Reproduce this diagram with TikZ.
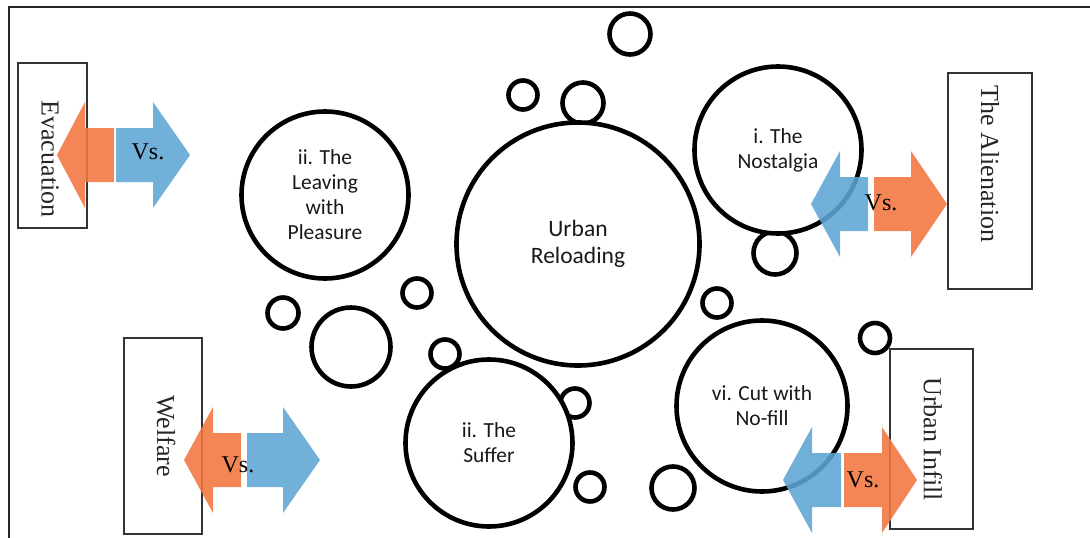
\documentclass[tikz,border=0pt]{standalone}
\usepackage{fontspec}
\setmainfont{Liberation Serif}
\newfontfamily\calfont{Carlito}
\definecolor{arrorange}{RGB}{242,117,63}
\definecolor{arrblue}{RGB}{93,165,211}
\newcommand{\vsarrow}[5]{%
  \fill[#1] (#2,#5) -- (#3,#5-53) -- (#3,#5-27) -- (#4,#5-27) -- (#4,#5+27) -- (#3,#5+27) -- (#3,#5+53) -- cycle;}
\begin{document}
\begin{tikzpicture}[x=1pt,y=-1pt,
  bub/.style={circle,draw=black,line width=4.6pt,inner sep=0pt},
  topic/.style={bub,fill=white,align=center,text=black!90,font=\calfont\fontsize{21.5}{25}\selectfont},
  sidebox/.style={draw=black!80,line width=1.2pt,fill=white,inner sep=0pt},
  sidetext/.style={rotate=-90,font=\fontsize{26}{30}\selectfont,text=black!85},
  vs/.style={font=\fontsize{24}{28}\selectfont,text=black},
  orangearr/.style={arrorange,fill opacity=0.88},
  bluearr/.style={arrblue,fill opacity=0.88}]
\useasboundingbox (0,0) rectangle (1090,538);
% frame
\draw[line width=2pt,black!85] (9,538) -- (9,7) -- (1090,7);

% small bubbles (behind the large ones)
\node[bub,minimum size=41pt] (b1) at (630,34) {};
\node[bub,minimum size=29pt] (b2) at (523,95) {};
\node[bub,minimum size=41pt] (b3) at (583,103) {};
\node[bub,minimum size=29pt] (b4) at (417,293) {};
\node[bub,minimum size=31pt] (b5) at (283,313) {};
\node[bub,minimum size=79pt] (b6) at (351,347) {};
\node[bub,minimum size=29pt] (b7) at (445,354) {};
\node[bub,minimum size=29pt] (b8) at (575,403) {};
\node[bub,minimum size=29pt] (b9) at (590,487) {};
\node[bub,minimum size=43pt] (b10) at (673,488) {};
\node[bub,minimum size=29pt] (b11) at (717,303) {};
\node[bub,minimum size=43pt] (b12) at (775,253) {};
\node[bub,minimum size=30pt] (b13) at (875,338) {};

% main bubbles
\node[bub,fill=white,minimum size=243pt,align=center,text=black!90,font=\calfont\fontsize{23.5}{27.7}\selectfont] (center) at (578,244) {Urban\\Reloading};
\node[topic,minimum size=167pt] (leaving) at (325,195) {ii. The\\Leaving\\with\\Pleasure};
\node[topic,minimum size=167pt] (nostalgia) at (778,150) {i. The\\Nostalgia};
\node[topic,minimum size=167pt] (suffer) at (489,443) {ii. The\\Suffer};
\node[topic,minimum size=171pt] (cut) at (762,406) {vi. Cut with\\No-fill};

% side boxes
\node[sidebox,minimum width=69pt,minimum height=165pt] (evac) at (52.5,145.5) {};
\node[sidetext] (evact) at (50,159) {Evacuation};
\node[sidebox,minimum width=84pt,minimum height=216pt] (alien) at (990,181) {};
\node[sidetext] (aliet) at (990,164) {The Alienation};
\node[sidebox,minimum width=78pt,minimum height=196pt] (welf) at (163,436) {};
\node[sidetext] (welft) at (166,436) {Welfare};
\node[sidebox,minimum width=83pt,minimum height=180pt] (infill) at (931.5,439) {};
\node[sidetext] (inft) at (933,439) {Urban Infill};

% Vs. arrows
\vsarrow{orangearr}{57}{85}{114}{155}
\vsarrow{bluearr}{190}{153}{116}{155}
\node[vs] (vs1) at (148,152) {Vs.};

\vsarrow{bluearr}{811}{840}{868}{204}
\vsarrow{orangearr}{947}{911}{874}{204}
\node[vs] (vs2) at (881,203) {Vs.};

\vsarrow{orangearr}{184}{213}{241}{460}
\vsarrow{bluearr}{320}{283}{247}{460}
\node[vs] (vs3) at (238,465) {Vs.};

\vsarrow{bluearr}{783}{812}{841}{480}
\vsarrow{orangearr}{917}{882}{844}{480}
\node[vs] (vs4) at (863,480) {Vs.};
\end{tikzpicture}
\end{document}
